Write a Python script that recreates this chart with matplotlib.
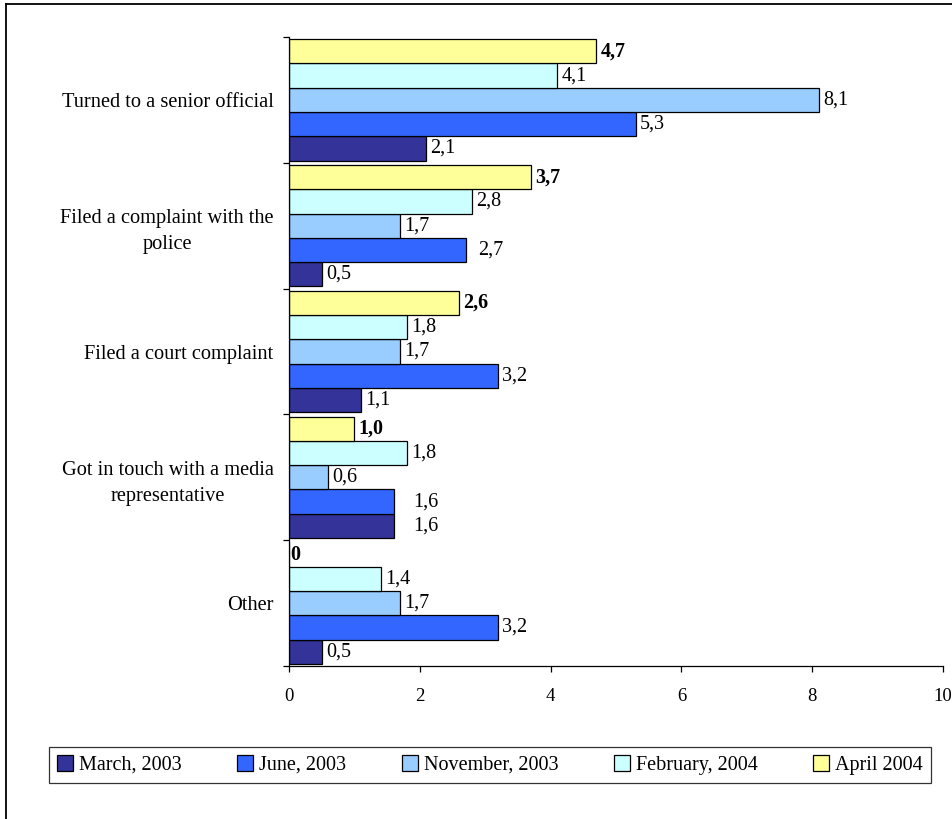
import numpy as np
import matplotlib.pyplot as plt
from matplotlib.lines import Line2D

plt.rcParams['font.family'] = ['Liberation Serif', 'DejaVu Serif']

categories = ["Turned to a senior official",
              "Filed a complaint with the\npolice",
              "Filed a court complaint",
              "Got in touch with a media\nrepresentative",
              "Other"]

series_names = ["March, 2003", "June, 2003", "November, 2003", "February, 2004", "April 2004"]
march_2003 = [2.1, 0.5, 1.1, 1.6, 0.5]
june_2003 = [5.3, 2.7, 3.2, 1.6, 3.2]
november_2003 = [8.1, 1.7, 1.7, 0.6, 1.7]
february_2004 = [4.1, 2.8, 1.8, 1.8, 1.4]
april_2004 = [4.7, 3.7, 2.6, 1.0, 0]

colors = ['#333399', '#3366FF', '#99CCFF', '#CCFFFF', '#FFFF99']

# a few labels sit further right of their bar end (points)
nudges = {(1, 1): 6, (3, 1): 11, (3, 0): 11}


def fmt(v):
    if v == 0:
        return "0"
    return f"{v:.1f}".replace('.', ',')


fig = plt.figure(figsize=(9.53, 8.19), dpi=100)
ax = fig.add_axes([289 / 953, 1 - 666 / 819, (943 - 289) / 953, (666 - 37) / 819])

all_series = [march_2003, june_2003, november_2003, february_2004, april_2004]
y = np.arange(len(categories))
h = 0.193

for i, (name, vals, col) in enumerate(zip(series_names, all_series, colors)):
    pos = y + (2 - i) * h
    ax.barh(pos, vals, height=h, color=col, edgecolor='black', linewidth=0.9, label=name)
    bold = (i == 4)
    for k, (p, v) in enumerate(zip(pos, vals)):
        dx = 3 + nudges.get((k, i), 0)
        if v == 0:
            dx = 1
        ax.annotate(fmt(v), xy=(v, p), xytext=(dx, 0), textcoords='offset points',
                    ha='left', va='center', fontsize=14.5,
                    fontweight='bold' if bold else 'normal')

ax.set_xlim(0, 10)
ax.set_ylim(len(categories) - 0.5, -0.5)
ax.set_xticks(np.arange(0, 11, 2))
ax.set_xticklabels([str(t) for t in range(0, 11, 2)], fontsize=13.5)
ax.set_yticks(y)
ax.set_yticklabels(categories, fontsize=14.7, multialignment='center', linespacing=1.5)
ax.set_yticks(np.arange(-0.5, len(categories)), minor=True)
ax.tick_params(axis='y', which='major', length=0, pad=11)
ax.tick_params(axis='y', which='minor', length=4, direction='out', width=0.9)
ax.tick_params(axis='x', length=4, direction='out', width=0.9, pad=12)

for s in ['top', 'right']:
    ax.spines[s].set_visible(False)
for s in ['left', 'bottom']:
    ax.spines[s].set_linewidth(0.9)

leg = fig.legend(loc='center', bbox_to_anchor=(490 / 953, 1 - 765 / 819), ncol=5,
                 fontsize=14.5, frameon=True, fancybox=False, handlelength=0.8,
                 handleheight=0.8, handletextpad=0.3, columnspacing=2.75,
                 borderpad=0.4)
leg.get_frame().set_edgecolor('black')
leg.get_frame().set_linewidth(0.9)

# outer chart frame
fig.add_artist(Line2D([6 / 953, 6 / 953], [0, 1 - 4 / 819], color='black', lw=1.3))
fig.add_artist(Line2D([6 / 953, 1], [1 - 4 / 819, 1 - 4 / 819], color='black', lw=1.3))

plt.savefig("out.png", dpi=100)
